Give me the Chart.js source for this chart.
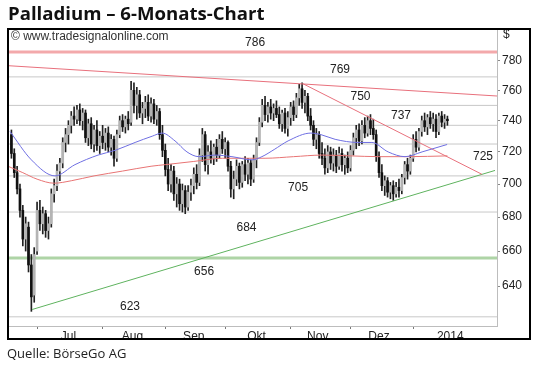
<!DOCTYPE html>
<html>
<head>
<meta charset="utf-8">
<script src="https://cdn.jsdelivr.net/npm/chart.js@4.4.1/dist/chart.umd.min.js"></script>
<style>
  body { margin: 0; background: #fff; }
  #wrap { position: relative; width: 540px; height: 370px; }
  #title { position: absolute; left: 8px; top: 0px; font: bold 18.6px "Open Sans"; color: #111; white-space: nowrap; }
  #src { position: absolute; left: 7px; top: 344px; font: 13px "Open Sans"; color: #222; white-space: nowrap; }
</style>
</head>
<body>
<div id="wrap">
  <canvas id="c" width="540" height="370"></canvas>
  <div id="title">Palladium – 6-Monats-Chart</div>
  <div id="src">Quelle: BörseGo AG</div>
</div>
<script>
// trading day index, 0 = 1 Jul 2013
const firstDay = -9;
const opens  = [731,719,707,697,684,667,674,652,635,
  660,684,676,682,672,676,694,699,708,713,726,731,737,
  743,741,747,740,745,729,738,725,734,724,
  730,726,732,723,728,716,731,740,736,741,
  739,760,750,757,745,748,752,743,751,741,
  746,731,721,709,700,708,694,700,688,696,686,
  695,699,706,701,718,731,712,720,716,723,718,728,722,
  726,711,697,703,711,701,712,706,713,703,
  715,726,739,750,744,749,745,748,
  744,738,745,735,742,749,744,
  755,761,752,756,
  743,737,728,731,719,
  716,710,720,713,718,711,719,712,716,710,
  721,729,734,727,737,732,740,735,
  731,717,707,699,702,695,699,694,698,
  696,704,712,708,716,728,723,
  733,740,736,742,738,741,733,743,739,741];
const highs  = [734,722,711,700,687,680,677,658,662,
  689,690,686,684,680,697,703,712,716,729,735,740,746,
  749,750,751,748,747,741,742,737,740,733,
  737,735,736,731,730,734,743,744,743,746,
  766,765,762,760,752,756,757,755,754,750,
  748,737,725,716,712,711,704,703,700,699,699,
  703,710,712,722,735,733,724,727,725,728,731,733,729,
  727,714,708,715,713,714,717,716,715,718,
  729,742,754,756,752,754,751,753,
  749,747,748,746,752,753,758,
  764,765,760,758,
  748,740,735,733,726,
  722,724,723,722,721,723,722,718,720,724,
  732,737,738,740,742,743,744,741,
  734,720,712,705,704,701,702,701,703,
  706,714,716,718,731,733,735,
  743,745,744,746,745,744,745,746,744,743];
const lows   = [716,704,694,680,663,660,648,626,631,
  658,672,670,668,667,674,689,696,702,710,720,725,732,
  737,738,737,734,726,724,722,720,721,719,
  722,721,720,718,711,714,729,733,732,734,
  737,745,741,742,738,742,740,739,738,737,
  728,717,705,696,695,690,686,684,683,682,684,
  690,694,697,699,714,708,706,713,712,714,716,719,716,
  708,692,691,699,697,698,702,700,699,701,
  710,724,736,740,739,741,740,742,
  735,733,732,730,737,740,742,
  750,748,745,740,
  734,724,722,716,712,
  706,707,709,708,707,709,708,706,707,708,
  718,722,724,725,729,730,731,728,
  714,704,696,693,692,691,690,692,692,
  694,700,703,706,714,720,721,
  730,733,731,735,733,729,731,736,735,737];
const closes = [719,707,697,684,667,676,652,634,658,
  684,676,682,672,676,694,699,708,713,726,731,737,743,
  741,747,740,745,729,738,725,734,724,730,
  726,732,723,728,716,731,740,736,741,738,
  760,750,757,745,748,752,743,751,741,746,
  731,721,709,700,708,694,700,688,696,686,695,
  699,706,701,718,731,712,720,716,723,718,728,722,726,
  711,697,703,711,701,712,706,713,703,715,
  726,739,750,744,749,745,748,744,
  738,745,735,742,749,744,755,
  761,752,756,743,
  737,728,731,719,716,
  710,720,713,718,711,719,712,716,710,721,
  729,734,727,737,732,740,735,731,
  717,707,699,702,695,699,694,698,696,
  704,712,708,716,728,723,733,
  740,736,742,738,741,733,743,739,741,740];

// moving averages
const maBlueDays = [-9.5,-2,6.3,13.3,21.4,27.4,34.4,40.4,43.9,48.4,52.6,56.8,62.5,68.4,75.4,78.9,83.2,88.1,96.1,99.6,104.6,112.6,117.5,123.2,129.1,135.1,143.9];
const maBlueVals = [733,715,705,712,718,721,726,730,732,727,720,717,718,717,715,717,721.5,727,732,731,728,726,726,720,717,720,724.7];
const maRedDays = [-10.2,-5,0,6,12,20,30,40,45,55,65,80,90,100,110,120,130,144];
const maRedVals = [711,707,703,700.5,702,705,708,711,712,714,716,716,717,718,717.5,717,717,717.5];

// support / resistance
const levelsGray = [769, 750, 737, 725, 705, 683, 623];
const levelRed = 786;
const levelGreen = 656;
const trendUpper = [[-10.2, 776.6], [161.4, 756.2]];
const trendDown  = [[93.3, 764.4], [156.1, 706]];
const trendGreen = [[-1.75, 627], [160.7, 708.4]];
const levelText = ['786','769','750','737','725','705','684','656','623'];
const levelTextDay = [76.5,106.3,113.5,127.7,156.5,91.6,73.5,58.6,32.6];
const levelTextVal = [792.5,774,756,743,717,698,673.4,647.9,628.5];

// x axis
const monthStarts = [0, 23, 45, 66, 89, 110, 132];
const monthLabelDays = [11, 33.5, 55, 77, 98.5, 120, 145];
const monthNames = ['Jul', 'Aug', 'Sep', 'Okt', 'Nov', 'Dez', '2014'];
const yTicks = [640, 660, 680, 700, 720, 740, 760, 780];
const xMin = -10.2, xMax = 161.4;

const days = opens.map((_, k) => firstDay + k);
const up = opens.map((o, k) => closes[k] >= o);

function hline(v, color, w, order) {
  return { type: 'line', data: [{x: xMin, y: v}, {x: xMax, y: v}], borderColor: color,
    borderWidth: w, pointRadius: 0, order: order };
}
function seg(p, color, order) {
  return { type: 'line', data: p.map(q => ({x: q[0], y: q[1]})), borderColor: color,
    borderWidth: 1, pointRadius: 0, order: order };
}

const datasets = [
  ...levelsGray.map(v => hline(v, '#c8c8c8', 1, 10)),
  hline(levelRed, '#f3a9ab', 3, 9),
  hline(levelGreen, '#aed4a6', 3, 9),
  { type: 'bar', data: days.map((d, k) => ({x: d, y: [lows[k], highs[k]]})),
    backgroundColor: '#222', barThickness: 1, grouped: false, order: 5 },
  { type: 'bar', data: days.map((d, k) => ({x: d, y: [opens[k], closes[k]]})),
    backgroundColor: up.map(u => u ? '#b4b4b4' : '#111'),
    borderWidth: 0, borderSkipped: false,
    barThickness: 2, grouped: false, order: 4 },
  { type: 'line', data: maBlueDays.map((d, k) => ({x: d, y: maBlueVals[k]})),
    borderColor: '#6f6fe2', borderWidth: 1, pointRadius: 0, cubicInterpolationMode: 'monotone', order: 1 },
  { type: 'line', data: maRedDays.map((d, k) => ({x: d, y: maRedVals[k]})),
    borderColor: '#e87474', borderWidth: 1, pointRadius: 0, cubicInterpolationMode: 'monotone', order: 1 },
  seg(trendUpper, '#e8707c', 1),
  seg(trendDown, '#e8707c', 1),
  seg(trendGreen, '#5fb35f', 1)
];

const annot = {
  id: 'annot',
  afterDraw(chart) {
    const {ctx, scales: {x, y}} = chart;
    ctx.save();
    ctx.fillStyle = '#222';
    ctx.font = '12px "Liberation Sans", Arial';
    ctx.textAlign = 'center';
    ctx.textBaseline = 'middle';
    levelText.forEach((t, k) => ctx.fillText(t, x.getPixelForValue(levelTextDay[k]), y.getPixelForValue(levelTextVal[k])));
    ctx.textAlign = 'left';
    ctx.fillText('$', 503, 35);
    ctx.fillStyle = '#333';
    ctx.font = '12px "Liberation Sans", Arial';
    ctx.fillText('© www.tradesignalonline.com', 11, 37);
    ctx.strokeStyle = '#000';
    ctx.lineWidth = 2;
    ctx.strokeRect(8, 29, 522, 310);
    ctx.restore();
  }
};

new Chart(document.getElementById('c'), {
  type: 'bar',
  data: { datasets: datasets },
  plugins: [annot],
  options: {
    responsive: false,
    animation: false,
    devicePixelRatio: 1,
    events: [],
    layout: { padding: { left: 8, top: 29, right: 10, bottom: 31 } },
    plugins: { legend: { display: false }, tooltip: { enabled: false } },
    scales: {
      x: {
        type: 'linear', min: xMin, max: xMax, offset: false,
        afterFit: s => { s.height = 13; },
        afterBuildTicks: s => {
          s.ticks = monthStarts.concat(monthLabelDays).sort((a, b) => a - b).map(v => ({value: v}));
        },
        ticks: {
          autoSkip: false, maxRotation: 0, padding: 0, color: '#222',
          font: { family: '"Liberation Sans", Arial', size: 12 },
          callback: v => { const k = monthLabelDays.indexOf(v); return k >= 0 ? monthNames[k] : ''; }
        },
        grid: {
          drawOnChartArea: false, tickLength: 3, offset: false,
          tickColor: c => (c.tick && monthStarts.includes(c.tick.value)) ? '#777' : 'rgba(0,0,0,0)'
        },
        border: { color: '#bdbdbd' }
      },
      y: {
        type: 'logarithmic', position: 'right', min: 618, max: 802,
        afterFit: s => { s.width = 33; },
        afterBuildTicks: s => { s.ticks = yTicks.map(v => ({value: v})); },
        ticks: {
          padding: 2, color: '#222',
          font: { family: '"Liberation Sans", Arial', size: 12 },
          callback: v => String(v)
        },
        grid: { drawOnChartArea: false, tickLength: 3, tickColor: '#888' },
        border: { color: '#bdbdbd' }
      }
    }
  }
});
</script>
</body>
</html>
